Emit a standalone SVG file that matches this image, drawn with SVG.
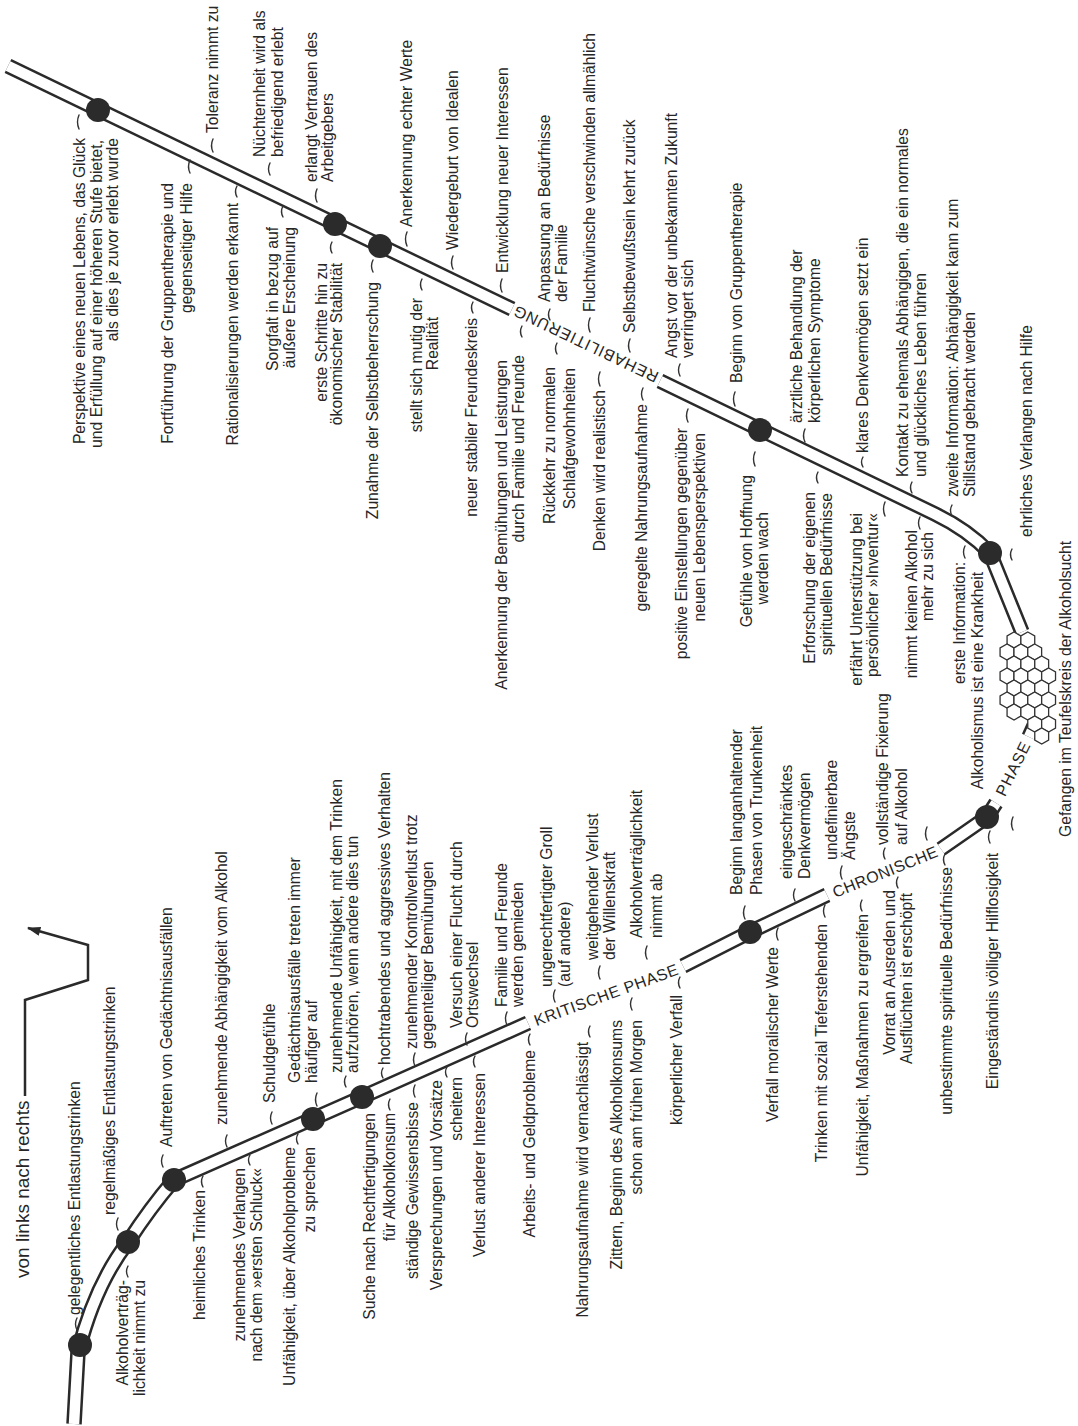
<svg xmlns="http://www.w3.org/2000/svg" xmlns:xlink="http://www.w3.org/1999/xlink" width="1078" height="1426" viewBox="0 0 1078 1426">
<style>
.t{font-family:"Liberation Sans",Arial,sans-serif;font-size:15.7px;fill:#262626}
.e{text-anchor:end}
.s{text-anchor:start}
.ph{font-family:"Liberation Sans",Arial,sans-serif;font-size:16px;fill:#262626;text-anchor:middle;dominant-baseline:central}
.tk{fill:none;stroke:#333;stroke-width:1.4;stroke-linecap:round}
.lo{fill:none;stroke:#2a2a2a;stroke-width:15.5}
.li{fill:none;stroke:#fff;stroke-width:10.5}
.nd{fill:#2b2b2b}
.hx{fill:#fff;stroke:#333;stroke-width:1.3}
</style>
<defs>
<path id="pU1" d="M8,66 L512,309"/>
<path id="pU2" d="M660,381 L935,514 Q968,530 990,553 L1022,632"/>
<path id="pL1" d="M74,1424 L78,1352 Q95,1285 128,1242 Q150,1208 174,1180 L362,1097 L528,1023"/>
<path id="pL2" d="M683,966 L750,932 L827,895"/>
<path id="pL3" d="M941,849 L987,817 L996,803"/>
<path id="pL4" d="M1029,737 L1034,726"/>
<polygon id="hex" points="0,-8 6.93,-4 6.93,4 0,8 -6.93,4 -6.93,-4"/>
<marker id="ah" viewBox="0 0 12 8" markerWidth="14" markerHeight="9" refX="11" refY="4" orient="auto" markerUnits="userSpaceOnUse"><path d="M0,0 L12,4 L0,8 z" fill="#2a2a2a"/></marker>
</defs>
<rect width="1078" height="1426" fill="#fff"/>

<g id="connectors">
<use href="#pU1" class="lo"/><use href="#pU1" class="li"/>
<use href="#pU2" class="lo"/><use href="#pU2" class="li"/>
<use href="#pL1" class="lo"/><use href="#pL1" class="li"/>
<use href="#pL2" class="lo"/><use href="#pL2" class="li"/>
<use href="#pL3" class="lo"/><use href="#pL3" class="li"/>
<use href="#pL4" class="lo"/><use href="#pL4" class="li"/>
<path d="M25,1096 L25,1000 L88,980 L88,945 L28,928" fill="none" stroke="#2a2a2a" stroke-width="2.5" marker-end="url(#ah)"/>
</g>

<g id="nodes-dots">
<circle class="nd" cx="98" cy="110" r="12"/>
<circle class="nd" cx="335" cy="224" r="12"/>
<circle class="nd" cx="380" cy="246" r="12"/>
<circle class="nd" cx="760" cy="430" r="12"/>
<circle class="nd" cx="990" cy="553" r="12"/>
<circle class="nd" cx="80" cy="1345" r="12"/>
<circle class="nd" cx="128" cy="1242" r="12"/>
<circle class="nd" cx="174" cy="1180" r="12"/>
<circle class="nd" cx="313" cy="1119" r="12"/>
<circle class="nd" cx="362" cy="1097" r="12"/>
<circle class="nd" cx="750" cy="932" r="12"/>
<circle class="nd" cx="987" cy="817" r="12"/>
</g>

<g id="teufelskreis" transform="translate(-4,0)">
<use href="#hex" class="hx" x="1018" y="640"/><use href="#hex" class="hx" x="1031.8" y="640"/>
<use href="#hex" class="hx" x="1011" y="652"/><use href="#hex" class="hx" x="1024.9" y="652"/><use href="#hex" class="hx" x="1038.7" y="652"/>
<use href="#hex" class="hx" x="1018" y="664"/><use href="#hex" class="hx" x="1031.8" y="664"/><use href="#hex" class="hx" x="1045.7" y="664"/>
<use href="#hex" class="hx" x="1011" y="676"/><use href="#hex" class="hx" x="1024.9" y="676"/><use href="#hex" class="hx" x="1038.7" y="676"/><use href="#hex" class="hx" x="1052.6" y="676"/>
<use href="#hex" class="hx" x="1018" y="688"/><use href="#hex" class="hx" x="1031.8" y="688"/><use href="#hex" class="hx" x="1045.7" y="688"/>
<use href="#hex" class="hx" x="1011" y="700"/><use href="#hex" class="hx" x="1024.9" y="700"/><use href="#hex" class="hx" x="1038.7" y="700"/><use href="#hex" class="hx" x="1052.6" y="700"/>
<use href="#hex" class="hx" x="1018" y="712"/><use href="#hex" class="hx" x="1031.8" y="712"/><use href="#hex" class="hx" x="1045.7" y="712"/>
<use href="#hex" class="hx" x="1038.7" y="724"/><use href="#hex" class="hx" x="1052.6" y="724"/>
<use href="#hex" class="hx" x="1045.7" y="736"/>
</g>

<g id="phases">
<text class="ph" transform="translate(606,995) rotate(-20)" textLength="152" lengthAdjust="spacing">KRITISCHE PHASE</text>
<text class="ph" transform="translate(885,872) rotate(-22)" textLength="112" lengthAdjust="spacing">CHRONISCHE</text>
<text class="ph" transform="translate(1013,769) rotate(-63.5)" textLength="58" lengthAdjust="spacing">PHASE</text>
<text class="ph" transform="translate(586,344) rotate(205.5)" textLength="158" lengthAdjust="spacing">REHABILITIERUNG</text>
</g>

<g id="direction">
<text class="t s" style="font-size:19px" transform="translate(29,1278) rotate(-90)">von links nach rechts</text>
</g>

<!-- upper line, labels below -->
<g id="n-persp"><text class="t e" transform="translate(85,138) rotate(-90)">Perspektive eines neuen Lebens, das Glück</text><text class="t e" transform="translate(102,140) rotate(-90)">und Erfüllung auf einer höheren Stufe bietet,</text><text class="t e" transform="translate(118,138) rotate(-90)">als dies je zuvor erlebt wurde</text><path class="tk" d="M79,115 q-3,7 0,14"/></g>
<g id="n-fort"><text class="t e" transform="translate(173,183) rotate(-90)">Fortführung der Gruppentherapie und</text><text class="t e" transform="translate(192,183) rotate(-90)">gegenseitiger Hilfe</text><path class="tk" d="M190,160 q-3,6.5 0,13"/></g>
<g id="n-rat"><text class="t e" transform="translate(238,203) rotate(-90)">Rationalisierungen werden erkannt</text><path class="tk" d="M237,186 q-3,5.5 0,11"/></g>
<g id="n-sorg"><text class="t e" transform="translate(278,227) rotate(-90)">Sorgfalt in bezug auf</text><text class="t e" transform="translate(295,227) rotate(-90)">äußere Erscheinung</text><path class="tk" d="M283,206 q-3,5.5 0,11"/></g>
<g id="n-erste"><text class="t e" transform="translate(327,263) rotate(-90)">erste Schritte hin zu</text><text class="t e" transform="translate(342,263) rotate(-90)">ökonomischer Stabilität</text><path class="tk" d="M332,242 q-3,5.5 0,11"/></g>
<g id="n-zunselbst"><text class="t e" transform="translate(378,282) rotate(-90)">Zunahme der Selbstbeherrschung</text><path class="tk" d="M373,260 q-3,6 0,12"/></g>
<g id="n-stellt"><text class="t e" transform="translate(422,298) rotate(-90)">stellt sich mutig der</text><text class="t e" transform="translate(438,317) rotate(-90)">Realität</text><path class="tk" d="M422,279 q-3,5.5 0,11"/></g>
<g id="n-neuer"><text class="t e" transform="translate(477,318) rotate(-90)">neuer stabiler Freundeskreis</text><path class="tk" d="M473,302 q-3,5.5 0,11"/></g>
<g id="n-anerkfam"><text class="t e" transform="translate(507,360) rotate(-90)">Anerkennung der Bemühungen und Leistungen</text><text class="t e" transform="translate(524,355) rotate(-90)">durch Familie und Freunde</text><path class="tk" d="M522,326 q-3,5.5 0,11"/></g>
<g id="n-rueck"><text class="t e" transform="translate(555,367) rotate(-90)">Rückkehr zu normalen</text><text class="t e" transform="translate(575,368) rotate(-90)">Schlafgewohnheiten</text><path class="tk" d="M557,343 q-3,5.5 0,11"/></g>
<g id="n-denken"><text class="t e" transform="translate(605,390) rotate(-90)">Denken wird realistisch</text><path class="tk" d="M600,372 q-3,7 0,14"/></g>
<g id="n-gereg"><text class="t e" transform="translate(647,404) rotate(-90)">geregelte Nahrungsaufnahme</text><path class="tk" d="M643,388 q-3,6 0,12"/></g>
<g id="n-posit"><text class="t e" transform="translate(687,428) rotate(-90)">positive Einstellungen gegenüber</text><text class="t e" transform="translate(705,433) rotate(-90)">neuen Lebensperspektiven</text><path class="tk" d="M688,409 q-3,6.5 0,13"/></g>
<g id="n-gefuehle"><text class="t e" transform="translate(752,475) rotate(-90)">Gefühle von Hoffnung</text><text class="t e" transform="translate(768,512) rotate(-90)">werden wach</text><path class="tk" d="M755,452 q-3,7 0,14"/></g>
<g id="n-erforsch"><text class="t e" transform="translate(815,492) rotate(-90)">Erforschung der eigenen</text><text class="t e" transform="translate(832,493) rotate(-90)">spirituellen Bedürfnisse</text><path class="tk" d="M818,472 q-3,5.5 0,11"/></g>
<g id="n-erfaehrt"><text class="t e" transform="translate(862,513) rotate(-90)">erfährt Unterstützung bei</text><text class="t e" transform="translate(878,513) rotate(-90)">persönlicher »Inventur«</text><path class="tk" d="M885,502 q-3,7 0,14"/></g>
<g id="n-nimmt"><text class="t e" transform="translate(917,530) rotate(-90)">nimmt keinen Alkohol</text><text class="t e" transform="translate(933,532) rotate(-90)">mehr zu sich</text><path class="tk" d="M920,517 q-3,6 0,12"/></g>
<g id="n-einfo"><text class="t e" transform="translate(965,562) rotate(-90)">erste Information:</text><text class="t e" transform="translate(983,572) rotate(-90)">Alkoholismus ist eine Krankheit</text><path class="tk" d="M965,546 q-3,6 0,12"/></g>

<!-- upper line, labels above -->
<g id="n-toleranz"><text class="t s" transform="translate(218,133) rotate(-90)">Toleranz nimmt zu</text><path class="tk" d="M213,139 q-3,6.5 0,13"/></g>
<g id="n-nuecht"><text class="t s" transform="translate(265,157) rotate(-90)">Nüchternheit wird als</text><text class="t s" transform="translate(283,157) rotate(-90)">befriedigend erlebt</text><path class="tk" d="M270,163 q-3,6 0,12"/></g>
<g id="n-erlangt"><text class="t s" transform="translate(317,182) rotate(-90)">erlangt Vertrauen des</text><text class="t s" transform="translate(333,182) rotate(-90)">Arbeitgebers</text><path class="tk" d="M317,189 q-3,6.5 0,13"/></g>
<g id="n-anerkw"><text class="t s" transform="translate(412,227) rotate(-90)">Anerkennung echter Werte</text><path class="tk" d="M407,232 q-3,7 0,14"/></g>
<g id="n-wieder"><text class="t s" transform="translate(458,250) rotate(-90)">Wiedergeburt von Idealen</text><path class="tk" d="M453,256 q-3,6.5 0,13"/></g>
<g id="n-entw"><text class="t s" transform="translate(508,273) rotate(-90)">Entwicklung neuer Interessen</text><path class="tk" d="M502,279 q-3,6.5 0,13"/></g>
<g id="n-anpass"><text class="t s" transform="translate(550,302) rotate(-90)">Anpassung an Bedürfnisse</text><text class="t s" transform="translate(567,302) rotate(-90)">der Familie</text><path class="tk" d="M550,309 q-3,5.5 0,11"/></g>
<g id="n-flucht"><text class="t s" transform="translate(595,312) rotate(-90)">Fluchtwünsche verschwinden allmählich</text><path class="tk" d="M590,318 q-3,7 0,14"/></g>
<g id="n-selbstb"><text class="t s" transform="translate(635,333) rotate(-90)">Selbstbewußtsein kehrt zurück</text><path class="tk" d="M630,339 q-3,6.5 0,13"/></g>
<g id="n-angst"><text class="t s" transform="translate(677,358) rotate(-90)">Angst vor der unbekannten Zukunft</text><text class="t s" transform="translate(693,358) rotate(-90)">verringert sich</text><path class="tk" d="M680,364 q-3,6 0,12"/></g>
<g id="n-beginngr"><text class="t s" transform="translate(742,383) rotate(-90)">Beginn von Gruppentherapie</text><path class="tk" d="M735,392 q-3,7 0,14"/></g>
<g id="n-aerztl"><text class="t s" transform="translate(802,423) rotate(-90)">ärztliche Behandlung der</text><text class="t s" transform="translate(820,423) rotate(-90)">körperlichen Symptome</text><path class="tk" d="M805,429 q-3,6.5 0,13"/></g>
<g id="n-klares"><text class="t s" transform="translate(868,453) rotate(-90)">klares Denkvermögen setzt ein</text><path class="tk" d="M863,457 q-3,5 0,10"/></g>
<g id="n-kontakt"><text class="t s" transform="translate(908,477) rotate(-90)">Kontakt zu ehemals Abhängigen, die ein normales</text><text class="t s" transform="translate(926,477) rotate(-90)">und glückliches Leben führen</text><path class="tk" d="M912,482 q-3,5.5 0,11"/></g>
<g id="n-zweite"><text class="t s" transform="translate(958,497) rotate(-90)">zweite Information: Abhängigkeit kann zum</text><text class="t s" transform="translate(975,497) rotate(-90)">Stillstand gebracht werden</text><path class="tk" d="M952,505 q-3,5.5 0,11"/></g>
<g id="n-ehrlich"><text class="t s" transform="translate(1032,537) rotate(-90)">ehrliches Verlangen nach Hilfe</text><path class="tk" d="M1012,549 q-3,5.5 0,11"/></g>
<g id="n-gefangen"><text class="t s" transform="translate(1071,837) rotate(-90)">Gefangen im Teufelskreis der Alkoholsucht</text></g>

<!-- lower line, labels above -->
<g id="n-gelegent"><text class="t s" transform="translate(80,1315) rotate(-90)">gelegentliches Entlastungstrinken</text><path class="tk" d="M77,1318 q-3,6 0,12"/></g>
<g id="n-regelm"><text class="t s" transform="translate(115,1215) rotate(-90)">regelmäßiges Entlastungstrinken</text><path class="tk" d="M118,1218 q-3,6 0,12"/></g>
<g id="n-auftr"><text class="t s" transform="translate(172,1147) rotate(-90)">Auftreten von Gedächtnisausfällen</text><path class="tk" d="M163,1155 q-3,6 0,12"/></g>
<g id="n-zunabh"><text class="t s" transform="translate(227,1125) rotate(-90)">zunehmende Abhängigkeit vom Alkohol</text><path class="tk" d="M227,1135 q-3,6 0,12"/></g>
<g id="n-schuld"><text class="t s" transform="translate(275,1103) rotate(-90)">Schuldgefühle</text><path class="tk" d="M272,1112 q-3,6 0,12"/></g>
<g id="n-gedaecht"><text class="t s" transform="translate(300,1083) rotate(-90)">Gedächtnisausfälle treten immer</text><text class="t s" transform="translate(317,1083) rotate(-90)">häufiger auf</text><path class="tk" d="M317,1093 q-3,6.5 0,13"/></g>
<g id="n-unftr"><text class="t s" transform="translate(342,1073) rotate(-90)">zunehmende Unfähigkeit, mit dem Trinken</text><text class="t s" transform="translate(358,1073) rotate(-90)">aufzuhören, wenn andere dies tun</text><path class="tk" d="M346,1076 q-3,5.5 0,11"/></g>
<g id="n-hochtr"><text class="t s" transform="translate(390,1065) rotate(-90)">hochtrabendes und aggressives Verhalten</text><path class="tk" d="M383,1068 q-3,5 0,10"/></g>
<g id="n-kontroll"><text class="t s" transform="translate(417,1049) rotate(-90)">zunehmender Kontrollverlust trotz</text><text class="t s" transform="translate(433,1049) rotate(-90)">gegenteiliger Bemühungen</text><path class="tk" d="M415,1053 q-3,6.5 0,13"/></g>
<g id="n-versuch"><text class="t s" transform="translate(462,1028) rotate(-90)">Versuch einer Flucht durch</text><text class="t s" transform="translate(478,1028) rotate(-90)">Ortswechsel</text><path class="tk" d="M467,1033 q-3,6 0,12"/></g>
<g id="n-familie"><text class="t s" transform="translate(507,1007) rotate(-90)">Familie und Freunde</text><text class="t s" transform="translate(523,1007) rotate(-90)">werden gemieden</text><path class="tk" d="M507,1012 q-3,6.5 0,13"/></g>
<g id="n-groll"><text class="t s" transform="translate(552,987) rotate(-90)">ungerechtfertigter Groll</text><text class="t s" transform="translate(570,987) rotate(-90)">(auf andere)</text><path class="tk" d="M555,990 q-3,6 0,12"/></g>
<g id="n-willen"><text class="t s" transform="translate(598,960) rotate(-90)">weitgehender Verlust</text><text class="t s" transform="translate(615,960) rotate(-90)">der Willenskraft</text><path class="tk" d="M600,966 q-3,6.5 0,13"/></g>
<g id="n-vertrab"><text class="t s" transform="translate(642,938) rotate(-90)">Alkoholverträglichkeit</text><text class="t s" transform="translate(662,938) rotate(-90)">nimmt ab</text><path class="tk" d="M647,946 q-3,6.5 0,13"/></g>
<g id="n-beginnlang"><text class="t s" transform="translate(742,895) rotate(-90)">Beginn langanhaltender</text><text class="t s" transform="translate(762,895) rotate(-90)">Phasen von Trunkenheit</text><path class="tk" d="M745,906 q-3,6.5 0,13"/></g>
<g id="n-eingeschr"><text class="t s" transform="translate(792,879) rotate(-90)">eingeschränktes</text><text class="t s" transform="translate(810,879) rotate(-90)">Denkvermögen</text><path class="tk" d="M795,889 q-3,6 0,12"/></g>
<g id="n-undef"><text class="t s" transform="translate(837,860) rotate(-90)">undefinierbare</text><text class="t s" transform="translate(855,860) rotate(-90)">Ängste</text><path class="tk" d="M842,866 q-3,6.5 0,13"/></g>
<g id="n-vollst"><text class="t s" transform="translate(888,845) rotate(-90)">vollständige Fixierung</text><text class="t s" transform="translate(907,845) rotate(-90)">auf Alkohol</text><path class="tk" d="M885,848 q-3,5.5 0,11"/><path class="tk" d="M927,827 q-3,6.5 0,13"/></g>

<!-- lower line, labels below -->
<g id="n-vertrzu"><text class="t e" transform="translate(128,1280) rotate(-90)">Alkoholverträg-</text><text class="t e" transform="translate(145,1280) rotate(-90)">lichkeit nimmt zu</text><path class="tk" d="M128,1266 q-3,5.5 0,11"/></g>
<g id="n-heiml"><text class="t e" transform="translate(205,1190) rotate(-90)">heimliches Trinken</text><path class="tk" d="M203,1176 q-3,5.5 0,11"/></g>
<g id="n-zunverl"><text class="t e" transform="translate(245,1168) rotate(-90)">zunehmendes Verlangen</text><text class="t e" transform="translate(262,1168) rotate(-90)">nach dem »ersten Schluck«</text><path class="tk" d="M250,1155 q-3,5 0,10"/></g>
<g id="n-unfspr"><text class="t e" transform="translate(295,1147) rotate(-90)">Unfähigkeit, über Alkoholprobleme</text><text class="t e" transform="translate(315,1147) rotate(-90)">zu sprechen</text><path class="tk" d="M298,1134 q-3,5 0,10"/></g>
<g id="n-suche"><text class="t e" transform="translate(375,1113) rotate(-90)">Suche nach Rechtfertigungen</text><text class="t e" transform="translate(395,1113) rotate(-90)">für Alkoholkonsum</text><path class="tk" d="M390,1099 q-3,5.5 0,11"/></g>
<g id="n-staendig"><text class="t e" transform="translate(418,1102) rotate(-90)">ständige Gewissensbisse</text><path class="tk" d="M415,1085 q-3,6 0,12"/></g>
<g id="n-verspr"><text class="t e" transform="translate(442,1080) rotate(-90)">Versprechungen und Vorsätze</text><text class="t e" transform="translate(462,1077) rotate(-90)">scheitern</text><path class="tk" d="M447,1067 q-3,5 0,10"/></g>
<g id="n-verlint"><text class="t e" transform="translate(485,1073) rotate(-90)">Verlust anderer Interessen</text><path class="tk" d="M475,1056 q-3,5.5 0,11"/></g>
<g id="n-arbeits"><text class="t e" transform="translate(535,1050) rotate(-90)">Arbeits- und Geldprobleme</text><path class="tk" d="M530,1034 q-3,5.5 0,11"/></g>
<g id="n-nahrung"><text class="t e" transform="translate(588,1042) rotate(-90)">Nahrungsaufnahme wird vernachlässigt</text><path class="tk" d="M590,1026 q-3,5.5 0,11"/></g>
<g id="n-zittern"><text class="t e" transform="translate(622,1020) rotate(-90)">Zittern, Beginn des Alkoholkonsums</text><text class="t e" transform="translate(642,1020) rotate(-90)">schon am frühen Morgen</text><path class="tk" d="M632,998 q-3,6 0,12"/></g>
<g id="n-koerper"><text class="t e" transform="translate(682,995) rotate(-90)">körperlicher Verfall</text><path class="tk" d="M680,977 q-3,5.5 0,11"/></g>
<g id="n-verfallmor"><text class="t e" transform="translate(778,947) rotate(-90)">Verfall moralischer Werte</text><path class="tk" d="M778,928 q-3,6 0,12"/></g>
<g id="n-trinkensoz"><text class="t e" transform="translate(827,924) rotate(-90)">Trinken mit sozial Tieferstehenden</text><path class="tk" d="M825,905 q-3,6 0,12"/></g>
<g id="n-unfmass"><text class="t e" transform="translate(868,914) rotate(-90)">Unfähigkeit, Maßnahmen zu ergreifen</text><path class="tk" d="M862,900 q-3,5.5 0,11"/></g>
<g id="n-vorrat"><text class="t e" transform="translate(895,890) rotate(-90)">Vorrat an Ausreden und</text><text class="t e" transform="translate(912,893) rotate(-90)">Ausflüchten ist erschöpft</text><path class="tk" d="M898,877 q-3,5.5 0,11"/></g>
<g id="n-unbest"><text class="t e" transform="translate(952,867) rotate(-90)">unbestimmte spirituelle Bedürfnisse</text><path class="tk" d="M945,854 q-3,5.5 0,11"/></g>
<g id="n-eingest"><text class="t e" transform="translate(998,853) rotate(-90)">Eingeständnis völliger Hilflosigkeit</text><path class="tk" d="M990,831 q-3,6 0,12"/><path class="tk" d="M1013,817 q-3,6.5 0,13"/></g>
</svg>
